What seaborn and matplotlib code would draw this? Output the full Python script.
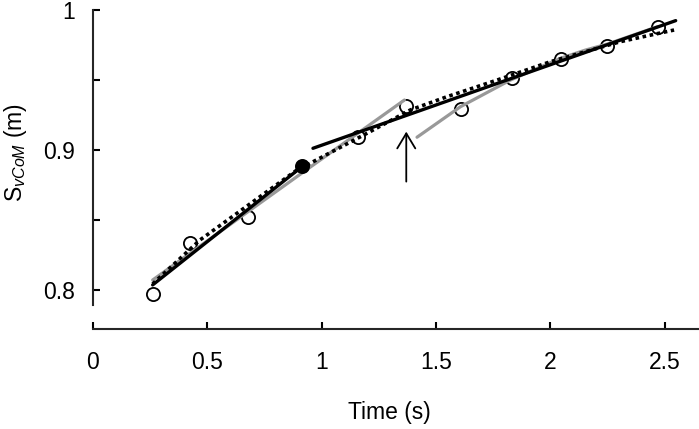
import numpy as np
import pandas as pd
import matplotlib
matplotlib.use("Agg")
import matplotlib.pyplot as plt
import seaborn as sns

# data
time_pts = [0.261, 0.425, 0.680, 1.157, 1.370, 1.610, 1.833, 2.045, 2.249, 2.471]
svcom_pts = [0.797, 0.8334, 0.8524, 0.9095, 0.9314, 0.9293, 0.9512, 0.9648, 0.9743, 0.9881]
filled_t = [0.914]
filled_s = [0.8886]

# black fit lines (two phases)
fit1_t = [0.261, 0.914]
fit1_s = [0.8036, 0.8881]
fit2_t = [0.962, 2.548]
fit2_s = [0.9012, 0.9924]

# grey segment fits
greyA_t = [0.261, 0.906, 1.362]
greyA_s = [0.8071, 0.8826, 0.9357]
greyB_t = [1.417, 1.607, 1.826, 2.045, 2.154, 2.250, 2.469]
greyB_s = [0.9091, 0.9309, 0.9500, 0.9655, 0.9714, 0.9757, 0.9881]

# dotted overall fit
dot_t = [0.261, 0.468, 0.892, 0.936, 1.198, 1.388, 1.549, 1.768, 2.001, 2.307, 2.541]
dot_s = [0.8043, 0.8357, 0.8857, 0.8893, 0.9119, 0.9286, 0.9381, 0.9500, 0.9631, 0.9774, 0.9857]

# arrow marking the transition
arrow_t = 1.370
arrow_from = 0.8774
arrow_to = 0.9131

sns.set_style("ticks")
plt.rcParams['font.family'] = ['Liberation Sans', 'DejaVu Sans']
plt.rcParams['mathtext.fontset'] = 'custom'
plt.rcParams['mathtext.rm'] = 'Liberation Sans'
plt.rcParams['mathtext.it'] = 'Liberation Sans:italic'

fig = plt.figure(figsize=(6.99, 4.29), dpi=100)
ax = fig.add_axes([0.133, 0.2331, 0.867, 0.7436])

grey = '#999999'
sns.lineplot(x=greyA_t, y=greyA_s, color=grey, lw=2.3, ax=ax, sort=False, estimator=None, zorder=3)
sns.lineplot(x=greyB_t, y=greyB_s, color=grey, lw=2.3, ax=ax, sort=False, estimator=None, zorder=3)

sns.scatterplot(x=time_pts, y=svcom_pts, s=90, facecolor='white', edgecolor='black',
                linewidth=1.3, ax=ax, zorder=2)

sns.lineplot(x=dot_t, y=dot_s, color='black', lw=2.6, ax=ax, sort=False, estimator=None,
             zorder=4).lines[-1].set_linestyle((0, (1, 1)))
sns.lineplot(x=fit1_t, y=fit1_s, color='black', lw=2.4, ax=ax, sort=False, estimator=None, zorder=5)
sns.lineplot(x=fit2_t, y=fit2_s, color='black', lw=2.4, ax=ax, sort=False, estimator=None, zorder=5)

sns.scatterplot(x=filled_t, y=filled_s, s=90, color='black', edgecolor='black',
                linewidth=1.3, ax=ax, zorder=6)

ax.annotate('', xy=(arrow_t, arrow_to), xytext=(arrow_t, arrow_from),
            arrowprops=dict(arrowstyle='->,head_length=1.08,head_width=0.65',
                            lw=1.3, color='black', mutation_scale=10,
                            shrinkA=0, shrinkB=0))

ax.set_xlim(0, 2.65)
ax.set_ylim(0.7721, 1.0)
ax.set_xticks([0, 0.5, 1, 1.5, 2, 2.5])
ax.set_xticklabels(['0', '0.5', '1', '1.5', '2', '2.5'])
ax.set_yticks([0.8, 0.85, 0.9, 0.95, 1.0])
ax.set_yticklabels(['0.8', '', '0.9', '', '1'])

sns.despine(ax=ax)
ax.spines['left'].set_bounds(0.7893, 1.0)
ax.spines['left'].set_linewidth(1.5)
ax.spines['bottom'].set_linewidth(1.5)
ax.tick_params(direction='in', length=5, width=1.5, labelsize=16.5, colors='black')
ax.tick_params(axis='x', pad=16)
ax.tick_params(axis='y', pad=13)

ax.set_xlabel('Time (s)', fontsize=16.5, color='black')
ax.set_ylabel(r'S$_{vCoM}$ (m)', fontsize=16.5, color='black')
ax.yaxis.set_label_coords(-0.105, 0.555)
ax.xaxis.set_label_coords(0.489, -0.225)

fig.savefig('out.png', dpi=100)
